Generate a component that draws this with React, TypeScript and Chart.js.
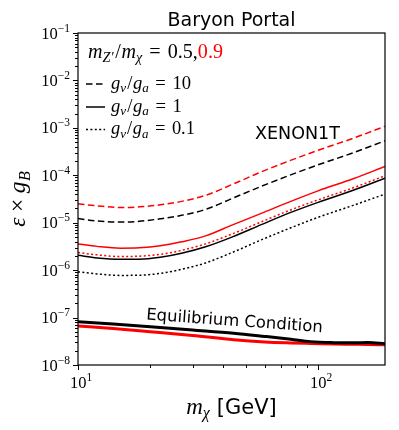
import React, { useEffect, useRef } from "react";
import { Chart, registerables } from "chart.js";

Chart.register(...registerables);

// ---- data ----
const xenonMass = [10, 12, 15, 18, 22, 27, 34, 44, 58, 76, 100, 140, 190];
const redDashed = [2.5e-5, 2.27e-5, 2.09e-5, 2.16e-5, 2.38e-5, 2.82e-5, 3.78e-5, 6.44e-5, 1.18e-4, 2.02e-4, 3.36e-4, 6.03e-4, 1.08e-3];
const blackDashed = [1.22e-5, 1.09e-5, 1.03e-5, 1.07e-5, 1.21e-5, 1.43e-5, 1.91e-5, 3.27e-5, 5.85e-5, 9.98e-5, 1.66e-4, 2.98e-4, 5.34e-4];
const redSolid = [3.58e-6, 3.17e-6, 2.9e-6, 2.95e-6, 3.25e-6, 3.95e-6, 5.28e-6, 9.02e-6, 1.57e-5, 2.75e-5, 4.7e-5, 8.43e-5, 1.53e-4];
const redDotted = [2.35e-6, 2.1e-6, 1.93e-6, 1.97e-6, 2.15e-6, 2.61e-6, 3.58e-6, 5.82e-6, 1.04e-5, 1.82e-5, 3.03e-5, 5.44e-5, 9.75e-5];
const blackSolid = [2.05e-6, 1.81e-6, 1.7e-6, 1.7e-6, 1.86e-6, 2.26e-6, 3.1e-6, 5.03e-6, 9.1e-6, 1.61e-5, 2.69e-5, 4.82e-5, 8.71e-5];
const blackDotted = [9.19e-7, 8.34e-7, 7.75e-7, 7.8e-7, 8.53e-7, 1.04e-6, 1.42e-6, 2.37e-6, 4.35e-6, 7.6e-6, 1.3e-5, 2.32e-5, 4.01e-5];

const eqMass = [10, 14, 20, 30, 44.5, 60, 77, 93, 116, 140, 161, 190];
const eqBlack = [8.2e-8, 7.34e-8, 6.44e-8, 5.48e-8, 4.67e-8, 4.0e-8, 3.49e-8, 3.11e-8, 2.96e-8, 2.93e-8, 2.98e-8, 2.8e-8];
const eqRed = [6.67e-8, 5.9e-8, 5.05e-8, 4.2e-8, 3.41e-8, 3.06e-8, 2.92e-8, 2.85e-8, 2.78e-8, 2.74e-8, 2.71e-8, 2.66e-8];

const xMin = 10;
const xMax = 190;
const yMin = 1e-8;
const yMax = 1e-1;
const xTickValues = [10, 20, 30, 40, 50, 60, 70, 80, 90, 100];
const xDecadeExponents = [1, 2];
const yDecadeExponents = [-8, -7, -6, -5, -4, -3, -2, -1];
const massRatios = ["0.5,", "0.9"];
const couplingRatios = ["10", "1", "0.1"];

const titleText = "Baryon Portal";
const xenonLabel = "XENON1T";
const eqLabel = "Equilibrium Condition";

const SERIF = "'Liberation Serif', 'DejaVu Serif', serif";
const SANS = "'DejaVu Sans', sans-serif";
const RED = "#ff0000";
const BLACK = "#000000";

const DASH = [6.5, 3.5];
const DOT = [2, 2.4];

type Run = { t: string; size: number; italic?: boolean; family?: string; dy?: number; color?: string; pad?: number };

function fontOf(r: Run, s: number) {
  return `${r.italic ? "italic " : ""}${(r.size * s).toFixed(2)}px ${r.family ?? SERIF}`;
}

function drawRuns(ctx: CanvasRenderingContext2D, runs: Run[], x: number, y: number, align: "left" | "center" | "right", target?: number) {
  const measure = (s: number) =>
    runs.reduce((w, r) => {
      ctx.font = fontOf(r, s);
      return w + ctx.measureText(r.t).width + (r.pad ?? 0) * s;
    }, 0);
  let s = 1;
  let w = measure(1);
  if (target) {
    s = target / w;
    w = measure(s);
  }
  let cx = align === "left" ? x : align === "center" ? x - w / 2 : x - w;
  ctx.textAlign = "left";
  ctx.textBaseline = "alphabetic";
  for (const r of runs) {
    ctx.font = fontOf(r, s);
    ctx.fillStyle = r.color ?? BLACK;
    ctx.fillText(r.t, cx, y + (r.dy ?? 0) * s);
    cx += ctx.measureText(r.t).width + (r.pad ?? 0) * s;
  }
}

const isDecade = (v: number) => Math.abs(Math.log10(v) - Math.round(Math.log10(v))) < 1e-6;

const overlay = {
  id: "overlay",
  afterDraw(chart: any) {
    const { ctx, chartArea: a } = chart;
    const xs = chart.scales.x;
    const ys = chart.scales.y;
    ctx.save();
    // frame
    ctx.strokeStyle = BLACK;
    ctx.lineWidth = 1.2;
    ctx.setLineDash([]);
    ctx.strokeRect(a.left, a.top, a.right - a.left, a.bottom - a.top);

    // y ticks
    ctx.lineWidth = 1;
    ys.ticks.forEach((t: any) => {
      const py = Math.round(ys.getPixelForValue(t.value)) + 0.5;
      const len = isDecade(t.value) ? 5 : 3;
      ctx.beginPath();
      ctx.moveTo(a.left - len, py);
      ctx.lineTo(a.left, py);
      ctx.stroke();
    });
    // x ticks
    xs.ticks.forEach((t: any) => {
      const px = Math.round(xs.getPixelForValue(t.value)) + 0.5;
      const len = isDecade(t.value) ? 5 : 3;
      ctx.beginPath();
      ctx.moveTo(px, a.bottom);
      ctx.lineTo(px, a.bottom + len);
      ctx.stroke();
    });

    // y tick labels
    yDecadeExponents.forEach((e) => {
      const py = ys.getPixelForValue(Math.pow(10, e));
      drawRuns(ctx, [
        { t: "10", size: 16.5 },
        { t: "\u2212" + Math.abs(e), size: 11.5, dy: -7 },
      ], a.left - 8, py + 5.5, "right");
    });
    // x tick labels
    xDecadeExponents.forEach((e) => {
      const v = Math.pow(10, e);
      if (v < xMin || v > xMax) return;
      const px = xs.getPixelForValue(v);
      drawRuns(ctx, [
        { t: "10", size: 16.5 },
        { t: String(e), size: 11.5, dy: -7 },
      ], px + 3, a.bottom + 23, "center");
    });

    // title
    drawRuns(ctx, [{ t: titleText, size: 19, family: SANS }], (a.left + a.right) / 2, 26, "center", 128);

    // x axis title
    drawRuns(ctx, [
      { t: "m", size: 23, italic: true },
      { t: "\u03c7", size: 16, italic: true, dy: 4, pad: 7 },
      { t: "[GeV]", size: 21, family: SANS },
    ], (a.left + a.right) / 2, 414, "center");

    // y axis title (rotated)
    ctx.save();
    ctx.translate(25, (a.top + a.bottom) / 2);
    ctx.rotate(-Math.PI / 2);
    drawRuns(ctx, [
      { t: "\u03b5", size: 23.5, italic: true, pad: 5.5 },
      { t: "\u00d7", size: 23.5, pad: 5.5 },
      { t: "g", size: 23.5, italic: true, pad: 0.5 },
      { t: "B", size: 16, italic: true, dy: 4.5 },
    ], 0, 0, "center");
    ctx.restore();

    // legend title
    drawRuns(ctx, [
      { t: "m", size: 17, italic: true },
      { t: "Z\u2032", size: 12, italic: true, dy: 3.5, pad: 1.5 },
      { t: "/", size: 17, pad: 0.5 },
      { t: "m", size: 17, italic: true },
      { t: "\u03c7", size: 12, italic: true, dy: 3.5, pad: 6 },
      { t: "=", size: 17, pad: 6 },
      { t: massRatios[0], size: 17 },
      { t: massRatios[1], size: 17, color: RED },
    ], 88, 57.5, "left", 135);

    // legend rows
    const rowY = [84, 107, 129.5];
    const rowDash = [DASH, [], DOT];
    const rowW = [80, 71, 84];
    couplingRatios.forEach((lab, i) => {
      const yy = rowY[i];
      ctx.strokeStyle = BLACK;
      ctx.lineWidth = 1.5;
      ctx.setLineDash(rowDash[i]);
      ctx.beginPath();
      ctx.moveTo(86, yy);
      ctx.lineTo(105, yy);
      ctx.stroke();
      ctx.setLineDash([]);
      drawRuns(ctx, [
        { t: "g", size: 17, italic: true },
        { t: "v", size: 12, italic: true, dy: 3.5, pad: 1 },
        { t: "/", size: 17, pad: 0.5 },
        { t: "g", size: 17, italic: true },
        { t: "a", size: 12, italic: true, dy: 3.5, pad: 6 },
        { t: "=", size: 17, pad: 6 },
        { t: lab, size: 17 },
      ], 111, yy + 4.5, "left", rowW[i]);
    });

    // XENON1T label
    drawRuns(ctx, [{ t: xenonLabel, size: 17, family: SANS }], 255, 138.5, "left", 85);

    // Equilibrium label (slightly rotated)
    ctx.save();
    ctx.translate(146, 319.5);
    ctx.rotate(Math.atan2(12.7, 177));
    drawRuns(ctx, [{ t: eqLabel, size: 16, family: SANS }], 0, 0, "left", 177);
    ctx.restore();

    ctx.restore();
  },
};

function series(xv: number[], yv: number[]) {
  return xv.map((x, i) => ({ x, y: yv[i] }));
}

export default function App() {
  const ref = useRef<HTMLCanvasElement | null>(null);
  useEffect(() => {
    if (!ref.current) return;
    const mk = (data: number[], color: string, dash: number[], width: number, order: number, xv = xenonMass) => ({
      data: series(xv, data),
      borderColor: color,
      backgroundColor: color,
      borderDash: dash,
      borderWidth: width,
      pointRadius: 0,
      fill: false,
      cubicInterpolationMode: "monotone" as const,
      order,
    });
    const chart = new Chart(ref.current, {
      type: "line",
      data: {
        datasets: [
          mk(redDashed, RED, DASH, 1.5, 5),
          mk(blackDashed, BLACK, DASH, 1.5, 5),
          mk(redSolid, RED, [], 1.5, 5),
          mk(redDotted, RED, DOT, 1.5, 4),
          mk(blackSolid, BLACK, [], 1.5, 5),
          mk(blackDotted, BLACK, DOT, 1.5, 5),
          mk(eqRed, RED, [], 3, 2, eqMass),
          mk(eqBlack, BLACK, [], 3, 1, eqMass),
        ] as any,
      },
      options: {
        animation: false,
        responsive: false,
        devicePixelRatio: 1,
        events: [],
        layout: { padding: { left: 0, right: 14, top: 33, bottom: 0 } },
        plugins: { legend: { display: false }, tooltip: { enabled: false }, title: { display: false } },
        scales: {
          x: {
            type: "logarithmic",
            min: xMin,
            max: xMax,
            grid: { display: false },
            border: { display: false },
            ticks: { display: false },
            afterBuildTicks: (s: any) => {
              s.ticks = xTickValues.filter((v) => v >= xMin && v <= xMax).map((v) => ({ value: v }));
            },
            afterFit: (s: any) => {
              s.height = 65;
            },
          },
          y: {
            type: "logarithmic",
            min: yMin,
            max: yMax,
            grid: { display: false },
            border: { display: false },
            ticks: { display: false },
            afterBuildTicks: (s: any) => {
              const t: { value: number }[] = [];
              yDecadeExponents.forEach((e) => {
                for (let m = 1; m <= 9; m++) {
                  const v = m * Math.pow(10, e);
                  if (v >= yMin * 0.999 && v <= yMax * 1.001) t.push({ value: v });
                }
              });
              s.ticks = t;
            },
            afterFit: (s: any) => {
              s.width = 78;
            },
          },
        },
      } as any,
      plugins: [overlay],
    });
    return () => chart.destroy();
  }, []);
  return (
    <canvas
      ref={ref}
      width={399}
      height={430}
      style={{ position: "fixed", left: 0, top: 0, width: 399, height: 430, background: "#fff" }}
    />
  );
}
